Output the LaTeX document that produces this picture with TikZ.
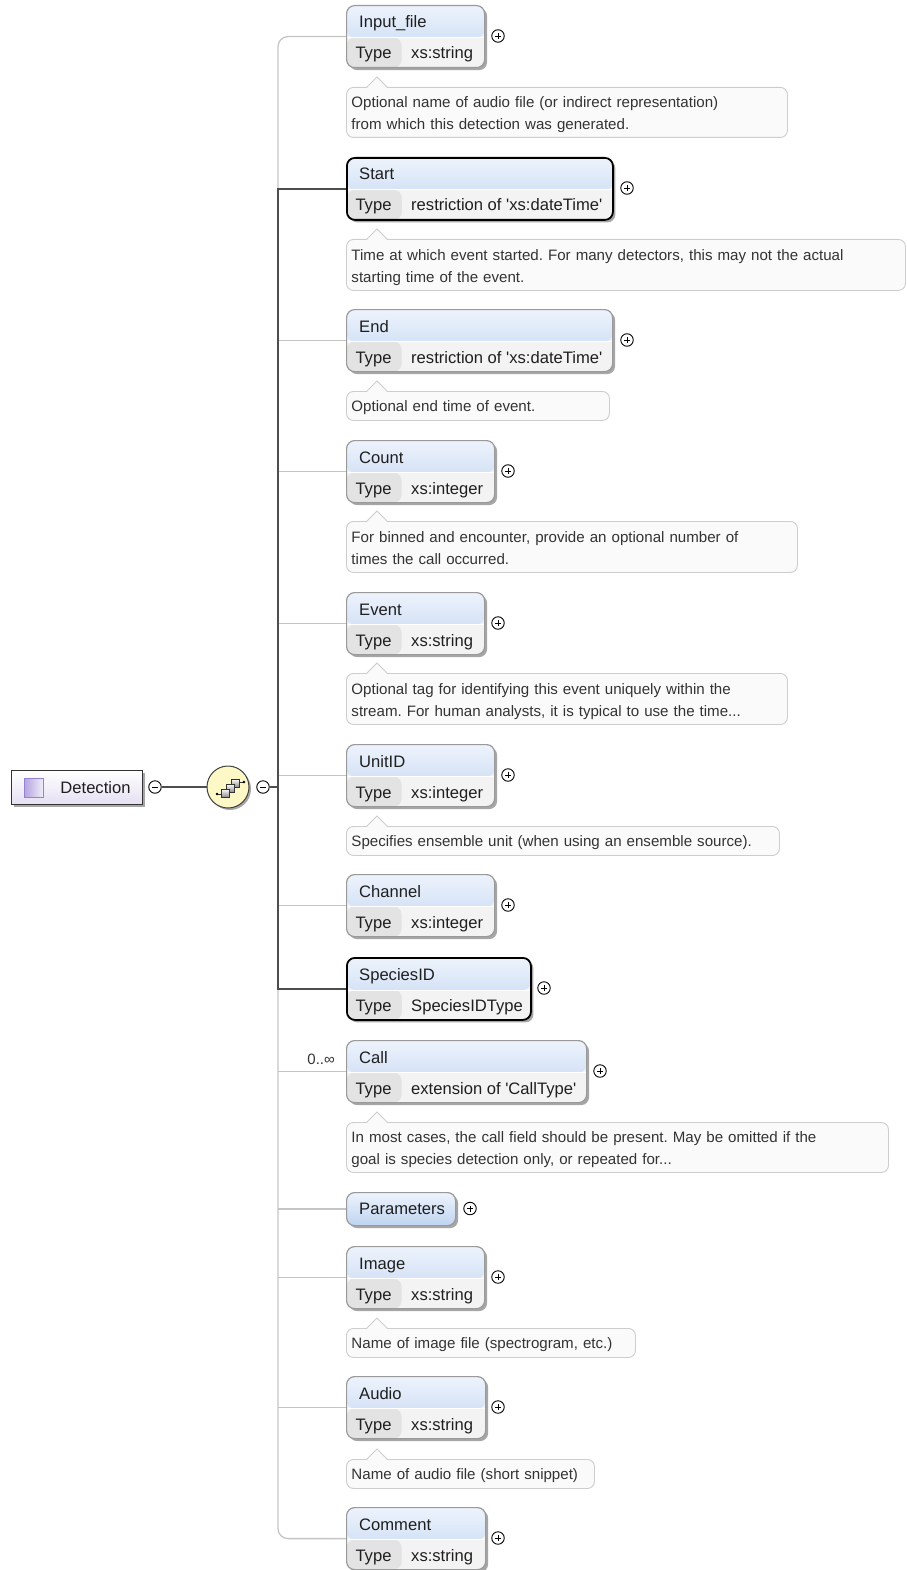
\documentclass[tikz,border=0pt]{standalone}
\usepackage{fontspec}
\setmainfont{Liberation Sans}
\usepackage{tikz}
\usetikzlibrary{shadows}
\frenchspacing

\definecolor{hdtop}{HTML}{EDF3FC}
\definecolor{hdbot}{HTML}{BFD4F1}
\definecolor{typecell}{HTML}{E3E3E3}
\definecolor{valcell}{HTML}{F3F3F3}
\definecolor{boxedge}{HTML}{9A9A9A}
\definecolor{linklight}{HTML}{C4C4C4}
\definecolor{linkdark}{HTML}{4D4D4D}
\definecolor{notefill}{HTML}{FAFAFA}
\definecolor{noteedge}{HTML}{CDCDCD}
\definecolor{notetext}{HTML}{333333}
\definecolor{seqfill}{HTML}{FDF8C6}
\definecolor{rootfill}{HTML}{E6E0F3}
\definecolor{iconfill}{HTML}{B3A2E0}
\definecolor{iconedge}{HTML}{9583CF}

\tikzset{
  elbox/.style={draw=boxedge, line width=1.2pt, rounded corners=8pt, anchor=north west,
    minimum height=62pt, inner sep=0pt, fill=valcell,
    drop shadow={shadow xshift=2.5pt, shadow yshift=-2.5pt, fill=black, opacity=0.35},
    path picture={
      \shade[top color=hdtop, bottom color=hdbot] (path picture bounding box.north west) rectangle ([yshift=-32pt]path picture bounding box.north east);
      \fill[typecell] ([yshift=-32pt]path picture bounding box.north west) rectangle ([xshift=55pt]path picture bounding box.south west);
      \draw[white, line width=0.8pt] ([yshift=-32pt]path picture bounding box.north west) -- ([yshift=-32pt]path picture bounding box.north east);
    }},
  grpbox/.style={draw=boxedge, line width=1.2pt, rounded corners=8pt, anchor=north west,
    minimum height=33pt, inner sep=0pt, top color=hdtop, bottom color=hdbot,
    drop shadow={shadow xshift=2.5pt, shadow yshift=-2.5pt, fill=black, opacity=0.35}},
  musthave/.style={draw=black, line width=1.8pt},
  elname/.style={anchor=base west, inner sep=0pt, font=\fontsize{16.6}{19}\selectfont, text=black!88},
  eltype/.style={anchor=base, inner sep=0pt, font=\fontsize{16.6}{19}\selectfont, text=black!88},
  elval/.style={anchor=base west, inner sep=0pt, font=\fontsize{16.6}{19}\selectfont, text=black!88},
  btn/.style={circle, draw=black, line width=0.9pt, fill=white, minimum size=12.5pt, inner sep=0pt},
  plusbtn/.style={btn, path picture={\draw[line width=0.9pt] ([xshift=-3pt]path picture bounding box.center) -- ([xshift=3pt]path picture bounding box.center) ([yshift=-3pt]path picture bounding box.center) -- ([yshift=3pt]path picture bounding box.center);}},
  minusbtn/.style={btn, path picture={\draw[line width=0.9pt] ([xshift=-3pt]path picture bounding box.center) -- ([xshift=3pt]path picture bounding box.center);}},
  note/.style={draw=noteedge, fill=notefill, line width=0.9pt, rounded corners=7pt, anchor=north west,
    align=left, inner xsep=5pt, inner ysep=0pt, text height=12pt, text depth=0pt,
    font=\fontsize{15.1}{22}\selectfont, text=notetext},
  notetwo/.style={note, text depth=21pt},
  notetip/.style={draw=noteedge, line width=0.9pt},
  link/.style={draw=linklight, line width=1.3pt},
  mustlink/.style={draw=linkdark, line width=2.6pt},
  rootbox/.style={draw=black!80, line width=1pt, top color=white, bottom color=rootfill, minimum width=131pt, minimum height=34pt,
    drop shadow={shadow xshift=2.5pt, shadow yshift=-2.5pt, fill=black, opacity=0.35}},
  rooticon/.style={draw=iconedge, line width=1pt, left color=iconfill, right color=white!80!iconfill, minimum size=19pt, inner sep=0pt},
  seqball/.style={circle, draw=black!75, line width=1pt, fill=seqfill, minimum size=42pt, inner sep=0pt,
    drop shadow={shadow xshift=2pt, shadow yshift=-2pt, fill=black, opacity=0.35}},
  seqsq/.style={draw=black!80, line width=0.8pt, top color=white, bottom color=black!45},
}

\begin{document}
\begin{tikzpicture}[x=1pt,y=1pt]
\useasboundingbox (0,0) rectangle (906,-1570);

\node[rootbox] (detection) at (76.5,-787) {};
\node[rooticon] (detection-icon) at (33.5,-787.5) {};
\node[elname, anchor=center] (detection-name) at (95.5,-788) {Detection};
\node[minusbtn] (detection-minus) at (155,-787) {};
\node[seqball] (seq) at (228,-787) {};
\node[minusbtn] (seq-minus) at (263,-787) {};
\coordinate (hub) at (278,-787);

\draw[black!80, line width=0.9pt] (217,-794) -- (222,-794) (239,-782) -- (244,-782);
\fill[black] (217,-794) circle [radius=1.4]; \fill[black] (244,-782) circle [radius=1.4];
\draw[seqsq] (231,-779) rectangle (239,-787);
\draw[seqsq] (226,-784) rectangle (234,-792);
\draw[seqsq] (221,-789) rectangle (229,-797);

\node[elbox, minimum width=138pt] (inputfile) at (346,-5) {};
\node[elname] (inputfile-name) at (359,-28) {Input\_file};
\node[eltype] (inputfile-type) at (373.5,-59) {Type}; \node[elval] (inputfile-val) at (411,-59) {xs:string};
\node[plusbtn] (inputfile-plus) at (498,-36) {};
\node[notetwo, minimum width=441pt, minimum height=50pt, text width=431pt] (inputfile-note) at (346,-87) {Optional name of audio file (or indirect representation)\\from which this detection was generated.};
\fill[notefill] ([xshift=21pt,yshift=-1pt]inputfile-note.north west) -- ++(10,11) -- ++(10,-11) -- cycle;
\draw[notetip] ([xshift=21pt]inputfile-note.north west) -- ++(10,10) -- ++(10,-10);

\node[elbox, musthave, minimum width=266pt] (start) at (346,-157) {};
\node[elname] (start-name) at (359,-180) {Start};
\node[eltype] (start-type) at (373.5,-211) {Type}; \node[elval] (start-val) at (411,-211) {restriction of \textquotesingle xs:dateTime\textquotesingle};
\node[plusbtn] (start-plus) at (627,-188) {};
\node[notetwo, minimum width=559pt, minimum height=51pt, text width=549pt] (start-note) at (346,-239) {Time at which event started. For many detectors, this may not the actual\\starting time of the event.};
\fill[notefill] ([xshift=21pt,yshift=-1pt]start-note.north west) -- ++(10,11) -- ++(10,-11) -- cycle;
\draw[notetip] ([xshift=21pt]start-note.north west) -- ++(10,10) -- ++(10,-10);

\node[elbox, minimum width=266pt] (endtime) at (346,-309) {};
\node[elname] (endtime-name) at (359,-332) {End};
\node[eltype] (endtime-type) at (373.5,-363) {Type}; \node[elval] (endtime-val) at (411,-363) {restriction of \textquotesingle xs:dateTime\textquotesingle};
\node[plusbtn] (endtime-plus) at (627,-340) {};
\node[note, minimum width=263pt, minimum height=29pt, text width=253pt] (endtime-note) at (346,-391) {Optional end time of event.};
\fill[notefill] ([xshift=21pt,yshift=-1pt]endtime-note.north west) -- ++(10,11) -- ++(10,-11) -- cycle;
\draw[notetip] ([xshift=21pt]endtime-note.north west) -- ++(10,10) -- ++(10,-10);

\node[elbox, minimum width=148pt] (count) at (346,-440) {};
\node[elname] (count-name) at (359,-463) {Count};
\node[eltype] (count-type) at (373.5,-494) {Type}; \node[elval] (count-val) at (411,-494) {xs:integer};
\node[plusbtn] (count-plus) at (508,-471) {};
\node[notetwo, minimum width=451pt, minimum height=51pt, text width=441pt] (count-note) at (346,-521) {For binned and encounter, provide an optional number of\\times the call occurred.};
\fill[notefill] ([xshift=21pt,yshift=-1pt]count-note.north west) -- ++(10,11) -- ++(10,-11) -- cycle;
\draw[notetip] ([xshift=21pt]count-note.north west) -- ++(10,10) -- ++(10,-10);

\node[elbox, minimum width=138pt] (event) at (346,-592) {};
\node[elname] (event-name) at (359,-615) {Event};
\node[eltype] (event-type) at (373.5,-646) {Type}; \node[elval] (event-val) at (411,-646) {xs:string};
\node[plusbtn] (event-plus) at (498,-623) {};
\node[notetwo, minimum width=441pt, minimum height=51pt, text width=431pt] (event-note) at (346,-673) {Optional tag for identifying this event uniquely within the\\stream. For human analysts, it is typical to use the time...};
\fill[notefill] ([xshift=21pt,yshift=-1pt]event-note.north west) -- ++(10,11) -- ++(10,-11) -- cycle;
\draw[notetip] ([xshift=21pt]event-note.north west) -- ++(10,10) -- ++(10,-10);

\node[elbox, minimum width=148pt] (unitid) at (346,-744) {};
\node[elname] (unitid-name) at (359,-767) {UnitID};
\node[eltype] (unitid-type) at (373.5,-798) {Type}; \node[elval] (unitid-val) at (411,-798) {xs:integer};
\node[plusbtn] (unitid-plus) at (508,-775) {};
\node[note, minimum width=433pt, minimum height=29pt, text width=423pt] (unitid-note) at (346,-826) {Specifies ensemble unit (when using an ensemble source).};
\fill[notefill] ([xshift=21pt,yshift=-1pt]unitid-note.north west) -- ++(10,11) -- ++(10,-11) -- cycle;
\draw[notetip] ([xshift=21pt]unitid-note.north west) -- ++(10,10) -- ++(10,-10);

\node[elbox, minimum width=148pt] (channel) at (346,-874) {};
\node[elname] (channel-name) at (359,-897) {Channel};
\node[eltype] (channel-type) at (373.5,-928) {Type}; \node[elval] (channel-val) at (411,-928) {xs:integer};
\node[plusbtn] (channel-plus) at (508,-905) {};

\node[elbox, musthave, minimum width=184pt] (speciesid) at (346,-957) {};
\node[elname] (speciesid-name) at (359,-980) {SpeciesID};
\node[eltype] (speciesid-type) at (373.5,-1011) {Type}; \node[elval] (speciesid-val) at (411,-1011) {SpeciesIDType};
\node[plusbtn] (speciesid-plus) at (544,-988) {};

\node[elbox, minimum width=240pt] (call) at (346,-1040) {};
\node[elname] (call-name) at (359,-1063) {Call};
\node[eltype] (call-type) at (373.5,-1094) {Type}; \node[elval] (call-val) at (411,-1094) {extension of \textquotesingle CallType\textquotesingle};
\node[plusbtn] (call-plus) at (600,-1071) {};
\node[elname, anchor=base east, font=\fontsize{15}{18}\selectfont, text=notetext] (call-count) at (335,-1064) {0..∞};
\node[notetwo, minimum width=542pt, minimum height=50pt, text width=532pt] (call-note) at (346,-1122) {In most cases, the call field should be present. May be omitted if the\\goal is species detection only, or repeated for...};
\fill[notefill] ([xshift=21pt,yshift=-1pt]call-note.north west) -- ++(10,11) -- ++(10,-11) -- cycle;
\draw[notetip] ([xshift=21pt]call-note.north west) -- ++(10,10) -- ++(10,-10);

\node[grpbox, minimum width=109pt] (parameters) at (346,-1192) {};
\node[elname] (parameters-name) at (359,-1214.5) {Parameters};
\node[plusbtn] (parameters-plus) at (470,-1208.5) {};

\node[elbox, minimum width=138pt] (image) at (346,-1246) {};
\node[elname] (image-name) at (359,-1269) {Image};
\node[eltype] (image-type) at (373.5,-1300) {Type}; \node[elval] (image-val) at (411,-1300) {xs:string};
\node[plusbtn] (image-plus) at (498,-1277) {};
\node[note, minimum width=289pt, minimum height=29pt, text width=279pt] (image-note) at (346,-1328) {Name of image file (spectrogram, etc.)};
\fill[notefill] ([xshift=21pt,yshift=-1pt]image-note.north west) -- ++(10,11) -- ++(10,-11) -- cycle;
\draw[notetip] ([xshift=21pt]image-note.north west) -- ++(10,10) -- ++(10,-10);

\node[elbox, minimum width=139pt] (audio) at (346,-1376) {};
\node[elname] (audio-name) at (359,-1399) {Audio};
\node[eltype] (audio-type) at (373.5,-1430) {Type}; \node[elval] (audio-val) at (411,-1430) {xs:string};
\node[plusbtn] (audio-plus) at (498,-1407) {};
\node[note, minimum width=248pt, minimum height=29pt, text width=238pt] (audio-note) at (346,-1459) {Name of audio file (short snippet)};
\fill[notefill] ([xshift=21pt,yshift=-1pt]audio-note.north west) -- ++(10,11) -- ++(10,-11) -- cycle;
\draw[notetip] ([xshift=21pt]audio-note.north west) -- ++(10,10) -- ++(10,-10);

\node[elbox, minimum width=139pt] (comment) at (346,-1507) {};
\node[elname] (comment-name) at (359,-1530) {Comment};
\node[eltype] (comment-type) at (373.5,-1561) {Type}; \node[elval] (comment-val) at (411,-1561) {xs:string};
\node[plusbtn] (comment-plus) at (498,-1538) {};

\draw[mustlink] (detection-minus) -- (seq);
\draw[draw=linkdark, line width=1.3pt] (seq-minus) -- (hub);
\draw[link, rounded corners=10pt] (inputfile.west) -| (hub) |- (comment.west);
\draw[link] (hub |- endtime.west) -- (endtime.west);
\draw[link] (hub |- count.west) -- (count.west);
\draw[link] (hub |- event.west) -- (event.west);
\draw[link] (hub |- unitid.west) -- (unitid.west);
\draw[link] (hub |- channel.west) -- (channel.west);
\draw[link] (hub |- call.west) -- (call.west);
\draw[link] (hub |- parameters.west) -- (parameters.west);
\draw[link] (hub |- image.west) -- (image.west);
\draw[link] (hub |- audio.west) -- (audio.west);
\draw[mustlink] (start.west) -| (hub) |- (speciesid.west);

\end{tikzpicture}
\end{document}
